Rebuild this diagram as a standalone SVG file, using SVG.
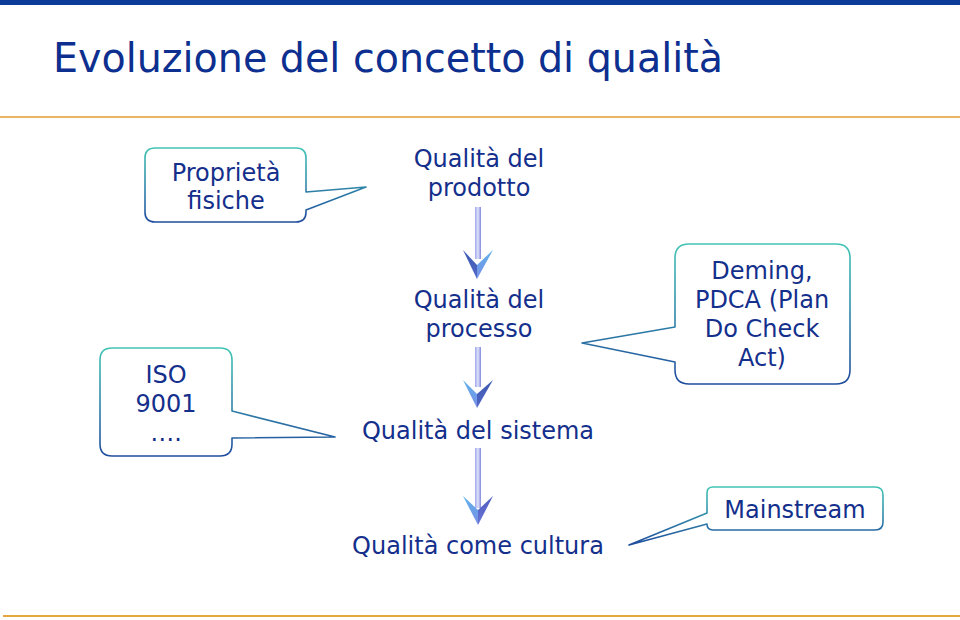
<svg xmlns="http://www.w3.org/2000/svg" width="960" height="620" viewBox="0 0 960 620">
<style>
  .t { font-family: "DejaVu Sans", Verdana, sans-serif; font-size: 24px; fill: #142f8c; text-anchor: middle; }
  .title { font-family: "DejaVu Sans", Verdana, sans-serif; font-size: 40px; fill: #0d2f8f; }
  .callout { fill: #ffffff; stroke: url(#calloutStroke); stroke-width: 1.6; stroke-linejoin: round; }
  .shaft { fill: url(#shaftGrad); }
</style>
<defs>
  <linearGradient id="calloutStroke" x1="0" y1="0" x2="0" y2="1">
    <stop offset="0" stop-color="#41c4b4"/>
    <stop offset="1" stop-color="#1f4c9e"/>
  </linearGradient>
  <linearGradient id="shaftGrad" x1="0" y1="0" x2="1" y2="0">
    <stop offset="0" stop-color="#9ea6ec"/>
    <stop offset="0.5" stop-color="#dfe2fb"/>
    <stop offset="1" stop-color="#7f88dc"/>
  </linearGradient>
  <linearGradient id="headDark" x1="0" y1="0" x2="0" y2="1">
    <stop offset="0" stop-color="#3a58b0"/>
    <stop offset="1" stop-color="#5468c8"/>
  </linearGradient>
  <linearGradient id="headLight" x1="0" y1="0" x2="0" y2="1">
    <stop offset="0" stop-color="#5fb2ea"/>
    <stop offset="1" stop-color="#7a8ee6"/>
  </linearGradient>
  <linearGradient id="headPurple" x1="0" y1="0" x2="0" y2="1">
    <stop offset="0" stop-color="#4d5cc0"/>
    <stop offset="1" stop-color="#6a76d6"/>
  </linearGradient>
</defs>

<rect x="0" y="0" width="960" height="5" fill="#0b3a99"/>
<rect x="0" y="116" width="960" height="2" fill="#e9b463"/>
<rect x="3" y="615" width="957" height="2" fill="#e6a83e"/>

<g id="title">
  <text class="title" x="53" y="72" textLength="670" lengthAdjust="spacingAndGlyphs">Evoluzione del concetto di qualità</text>
</g>

<g id="connectors">
  <g id="arrow1">
    <rect class="shaft" x="475" y="207" width="6" height="52"/>
    <polygon points="463,250 477,265 477,279" fill="url(#headDark)"/>
    <polygon points="493,250 477,265 477,279" fill="url(#headLight)"/>
  </g>
  <g id="arrow2">
    <rect class="shaft" x="475" y="347" width="6" height="40"/>
    <polygon points="463,380 477,394 477,408" fill="url(#headLight)"/>
    <polygon points="493,380 477,394 477,408" fill="url(#headDark)"/>
  </g>
  <g id="arrow3">
    <rect class="shaft" x="475" y="448" width="6" height="60"/>
    <polygon points="463,496 478,510 478,525" fill="url(#headLight)"/>
    <polygon points="493,496 478,510 478,525" fill="url(#headPurple)"/>
  </g>
</g>

<g id="node-prodotto">
  <text class="t" x="479" y="167">Qualità del</text>
  <text class="t" x="479" y="196">prodotto</text>
</g>
<g id="node-processo">
  <text class="t" x="479" y="308">Qualità del</text>
  <text class="t" x="479" y="337">processo</text>
</g>
<g id="node-sistema">
  <text class="t" x="478" y="439">Qualità del sistema</text>
</g>
<g id="node-cultura">
  <text class="t" x="478" y="554">Qualità come cultura</text>
</g>

<g id="callout-proprieta">
  <path class="callout" d="M155,148 H296 Q306,148 306,158 V192 L366,187 L306,210 V212 Q306,222 296,222 H155 Q145,222 145,212 V158 Q145,148 155,148 Z"/>
  <text class="t" x="226" y="181">Proprietà</text>
  <text class="t" x="226" y="209">fisiche</text>
</g>

<g id="callout-iso">
  <path class="callout" d="M112,348 H220 Q232,348 232,360 V411 L335,437 L232,438 V444 Q232,456 220,456 H112 Q100,456 100,444 V360 Q100,348 112,348 Z"/>
  <text class="t" x="166" y="383">ISO</text>
  <text class="t" x="166" y="412">9001</text>
  <text class="t" x="166" y="441">….</text>
</g>

<g id="callout-deming">
  <path class="callout" d="M689,244 H836 Q850,244 850,258 V370 Q850,384 836,384 H689 Q675,384 675,370 V362 L582,343 L675,327 V258 Q675,244 689,244 Z"/>
  <text class="t" x="762" y="279">Deming,</text>
  <text class="t" x="762" y="308">PDCA (Plan</text>
  <text class="t" x="762" y="337">Do Check</text>
  <text class="t" x="762" y="366">Act)</text>
</g>

<g id="callout-mainstream">
  <path class="callout" d="M715,487 H875 Q883,487 883,495 V522 Q883,530 875,530 H713 Q707,530 707,524 L629,545 L707,513 V493 Q707,487 713,487 Z"/>
  <text class="t" x="795" y="518">Mainstream</text>
</g>
</svg>
